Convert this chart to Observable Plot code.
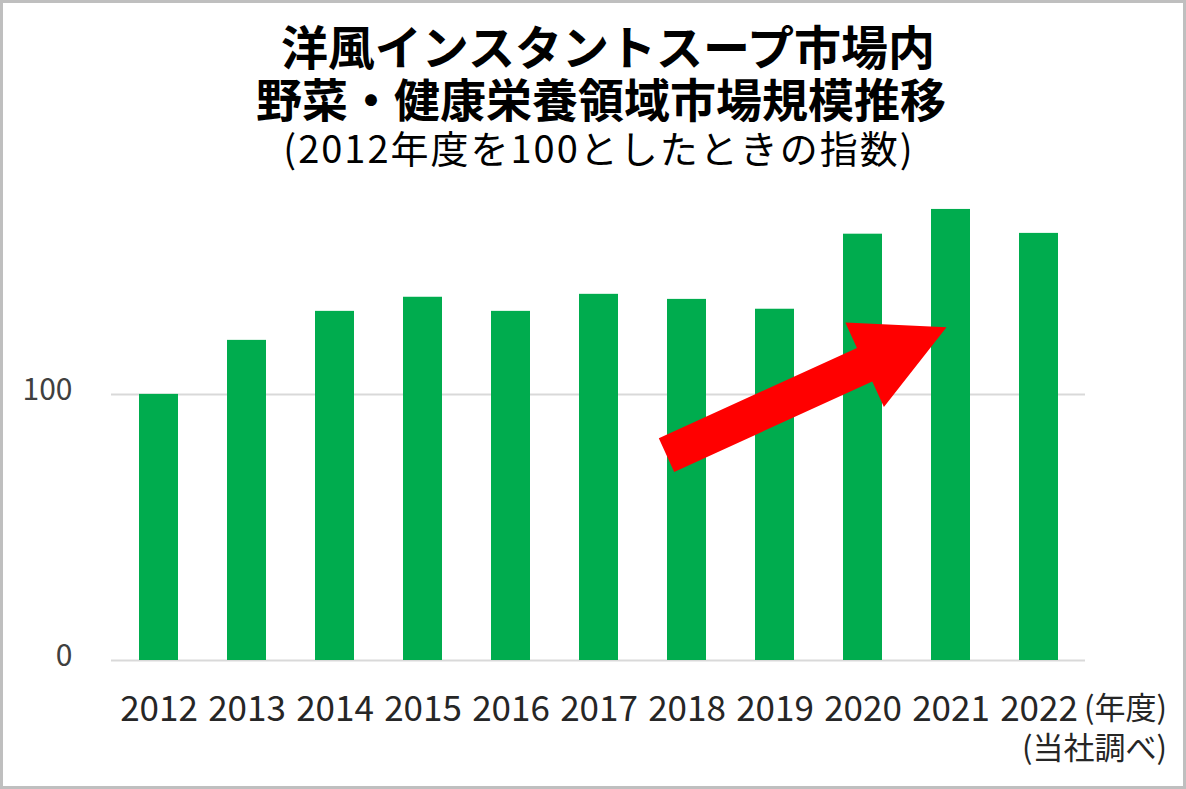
<!DOCTYPE html>
<html>
<head>
<meta charset="utf-8">
<script src="https://cdn.jsdelivr.net/npm/d3@7"></script>
<script src="https://cdn.jsdelivr.net/npm/@observablehq/plot@0.6"></script>
<style>
  html, body { margin: 0; padding: 0; background: #fff; }
  #wrap { position: relative; width: 1186px; height: 789px; overflow: hidden; font-family: "Noto Sans CJK JP", "Noto Sans", sans-serif; }
  #border { position: absolute; left: 0; top: 0; width: 1186px; height: 789px; box-sizing: border-box; border: 3px solid #bfbfbf; pointer-events: none; }
  .t { position: absolute; width: 1186px; text-align: center; color: #000; white-space: nowrap; }
  #t1 { left: 15px; top: 21px; font-size: 47px; font-weight: 700; line-height: 47px; }
  #t2 { left: 8px; top: 74px; font-size: 46px; font-weight: 700; line-height: 46px; }
  #t3 { left: 6px; top: 128px; font-size: 38px; font-weight: 400; line-height: 38px; letter-spacing: 2px; }
  #chart { position: absolute; left: 0; top: 180px; }
  .note { position: absolute; font-size: 31px; color: #262626; white-space: nowrap; line-height: 31px; }
</style>
</head>
<body>
<div id="wrap">
  <div class="t" id="t1">洋風インスタントスープ市場内</div>
  <div class="t" id="t2">野菜・健康栄養領域市場規模推移</div>
  <div class="t" id="t3">(2012年度を100としたときの指数)</div>
  <div id="chart"></div>
  <div class="note" id="unit" style="left:1084px; top:690px;">(年度)</div>
  <div class="note" id="src" style="left:1022px; top:730px;">(当社調べ)</div>
  <div id="border"></div>
</div>
<script>
const years = ["2012","2013","2014","2015","2016","2017","2018","2019","2020","2021","2022"];
const values = [100, 120.3, 131.2, 136.5, 131.2, 137.6, 135.7, 132, 160.2, 169.5, 160.5];
const yTicks = [0, 100];
// annotation arrow: from (year, value) to (year, value), offset within band in px
const arrowFrom = { year: "2018", value: 77, dx: -20 };
const arrowTo = { year: "2021", value: 125, dx: -4 };

const data = years.map((y, i) => ({ year: y, value: values[i] }));

function arrowMark(index, scales) {
  const x = scales.x, y = scales.y;
  const bw = x.bandwidth ? x.bandwidth() : 0;
  const x0 = x(arrowFrom.year) + bw / 2 + arrowFrom.dx, y0 = y(arrowFrom.value);
  const x1 = x(arrowTo.year) + bw / 2 + arrowTo.dx, y1 = y(arrowTo.value);
  const dx = x1 - x0, dy = y1 - y0, L = Math.hypot(dx, dy);
  const ux = dx / L, uy = dy / L, nx = -uy, ny = ux;
  const shaftW = 37, headW = 93, headL = 90;
  const bx = x1 - ux * headL, by = y1 - uy * headL;
  const pts = [
    [x0 + nx * shaftW / 2, y0 + ny * shaftW / 2],
    [bx + nx * shaftW / 2, by + ny * shaftW / 2],
    [bx + nx * headW / 2, by + ny * headW / 2],
    [x1, y1],
    [bx - nx * headW / 2, by - ny * headW / 2],
    [bx - nx * shaftW / 2, by - ny * shaftW / 2],
    [x0 - nx * shaftW / 2, y0 - ny * shaftW / 2]
  ];
  const g = d3.create("svg:g");
  g.append("path").attr("d", "M" + pts.map(p => p.join(",")).join("L") + "Z").attr("fill", "#ff0000");
  return g.node();
}

const plot = Plot.plot({
  width: 1186,
  height: 609,
  marginTop: 1,
  marginBottom: 129,
  marginLeft: 111,
  marginRight: 101,
  style: { fontFamily: "'Noto Sans CJK JP', 'Noto Sans', sans-serif", background: "transparent", overflow: "visible" },
  x: { domain: years, paddingInner: 0.56, paddingOuter: 0.28, align: 0.5, label: null },
  y: { domain: [0, 180], label: null },
  marks: [
    Plot.ruleY(yTicks, { stroke: "#d9d9d9", strokeWidth: 2 }),
    Plot.barY(data, { x: "year", y: "value", fill: "#00ac4e" }),
    arrowMark,
    Plot.axisX({ tickSize: 0, tickPadding: 36, fontSize: 35, fill: "#262626", label: null }),
    Plot.axisY({ ticks: yTicks, tickSize: 0, tickPadding: 39, fontSize: 30, fill: "#404040", label: null, dy: -4 })
  ]
});
document.getElementById("chart").appendChild(plot);
</script>
</body>
</html>
